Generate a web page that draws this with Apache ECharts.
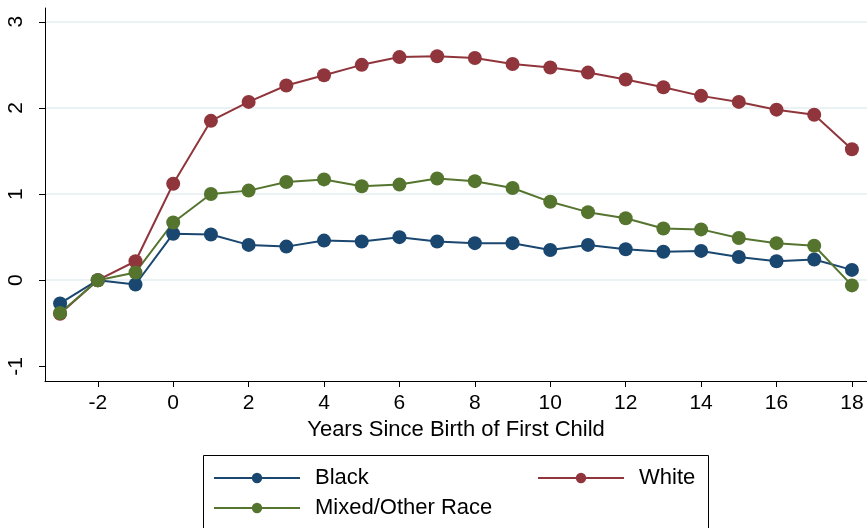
<!DOCTYPE html>
<html>
<head>
<meta charset="utf-8">
<script src="https://cdn.jsdelivr.net/npm/echarts@6/dist/echarts.min.js"></script>
<style>
  html, body { margin: 0; padding: 0; background: #fff; }
  #chart { width: 867px; height: 528px; }
</style>
</head>
<body>
<div id="chart"></div>
<script>
// years since birth of first child
const years = [-3, -2, -1, 0, 1, 2, 3, 4, 5, 6, 7, 8, 9, 10, 11, 12, 13, 14, 15, 16, 17, 18]
const blackVals = [-0.27, 0, -0.05, 0.54, 0.53, 0.41, 0.39, 0.46, 0.45, 0.50, 0.45, 0.43, 0.43, 0.35, 0.41, 0.36, 0.33, 0.34, 0.27, 0.22, 0.24, 0.12]
const whiteVals = [-0.39, 0, 0.22, 1.12, 1.85, 2.07, 2.26, 2.38, 2.50, 2.59, 2.60, 2.58, 2.51, 2.47, 2.41, 2.33, 2.24, 2.14, 2.07, 1.98, 1.92, 1.52]
const mixedVals = [-0.38, 0, 0.09, 0.67, 1.00, 1.04, 1.14, 1.17, 1.09, 1.11, 1.18, 1.15, 1.07, 0.91, 0.79, 0.72, 0.60, 0.59, 0.49, 0.43, 0.40, -0.06]
const xTicks = [-2, 0, 2, 4, 6, 8, 10, 12, 14, 16, 18]
const yTicks = [-1, 0, 1, 2, 3]
const gridTicks = [0, 1, 2, 3]

const font = 'Liberation Sans, Arial, sans-serif'
const navy = '#1a476f'
const maroon = '#90353b'
const green = '#55752f'

const pairs = vals => years.map((x, i) => [x, vals[i]])

const chart = echarts.init(document.getElementById('chart'))

const mkSeries = (name, vals, color) => ({
  name: name,
  type: 'line',
  data: pairs(vals),
  symbol: 'circle',
  symbolSize: 14,
  lineStyle: { color: color, width: 2 },
  itemStyle: { color: color },
  emphasis: { disabled: true },
  animation: false
})

const legendBase = {
  orient: 'horizontal',
  padding: 0,
  itemWidth: 86,
  itemHeight: 13,
  textStyle: { fontFamily: font, fontSize: 22, color: '#000', padding: [0, 0, 0, 10] },
  selectedMode: false
}

const option = {
  animation: false,
  grid: { left: 45, right: 0, top: 8, bottom: 147 },
  xAxis: {
    type: 'value',
    min: -3.4,
    max: 18.4,
    name: 'Years Since Birth of First Child',
    nameLocation: 'middle',
    nameGap: 35,
    nameTextStyle: { fontFamily: font, fontSize: 22, color: '#000' },
    axisLine: { show: true, onZero: false, lineStyle: { color: '#000', width: 1 } },
    axisTick: { show: true, length: 6, customValues: xTicks, lineStyle: { color: '#000' } },
    axisLabel: { customValues: xTicks, fontFamily: font, fontSize: 21, color: '#000', margin: 12 },
    splitLine: { show: false }
  },
  yAxis: [
    {
      type: 'value',
      min: -1.17,
      max: 3.16,
      axisLine: { show: true, onZero: false, lineStyle: { color: '#000', width: 1 } },
      axisTick: { show: true, length: 6, customValues: yTicks, lineStyle: { color: '#000' } },
      axisLabel: { customValues: yTicks, rotate: 90, fontFamily: font, fontSize: 21, color: '#000', margin: 18 },
      splitLine: { show: false }
    },
    {
      type: 'value',
      min: -1.17,
      max: 3.16,
      position: 'left',
      axisLine: { show: false, onZero: false },
      axisTick: { show: false, customValues: gridTicks },
      axisLabel: { show: false, customValues: gridTicks },
      splitLine: { show: true, lineStyle: { color: '#eaf2f3', width: 2 } }
    }
  ],
  legend: [
    Object.assign({}, legendBase, { data: ['Black'], left: 213, top: 467 }),
    Object.assign({}, legendBase, { data: ['White'], left: 537, top: 467 }),
    Object.assign({}, legendBase, { data: ['Mixed/Other Race'], left: 213, top: 497 })
  ],
  graphic: [
    {
      type: 'rect',
      shape: { x: 203.5, y: 455.5, width: 505, height: 90 },
      style: { fill: 'none', stroke: '#000', lineWidth: 1 },
      silent: true
    }
  ],
  series: [
    mkSeries('Black', blackVals, navy),
    mkSeries('White', whiteVals, maroon),
    mkSeries('Mixed/Other Race', mixedVals, green)
  ]
}

chart.setOption(option)
</script>
</body>
</html>
